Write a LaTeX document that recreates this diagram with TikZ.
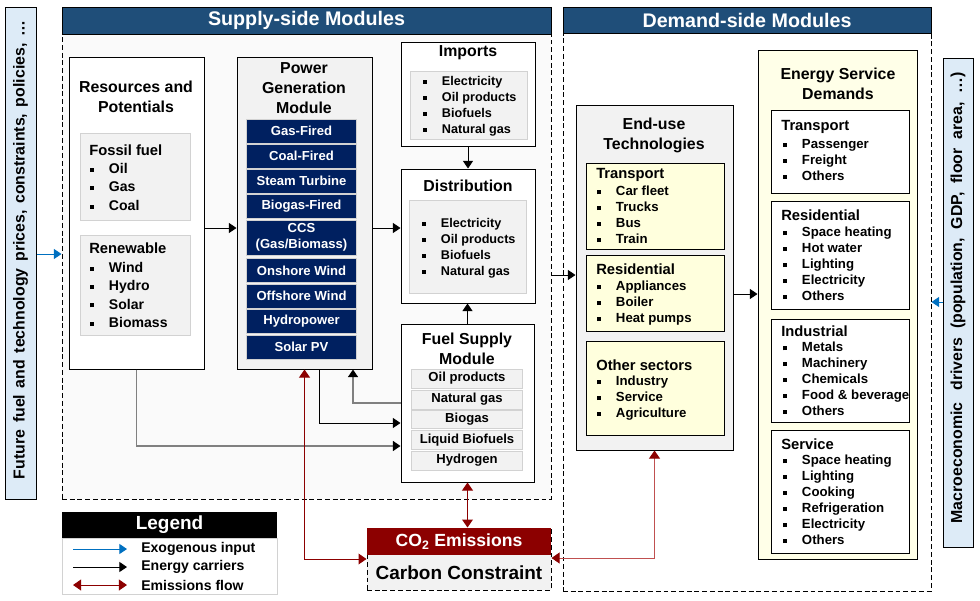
\documentclass[tikz,border=0pt]{standalone}
\usepackage{fontspec}
\setmainfont{Liberation Sans}
\usetikzlibrary{arrows.meta,fit}

\definecolor{headblue}{RGB}{31,78,121}
\definecolor{navyblock}{RGB}{0,32,96}
\definecolor{panelgray}{RGB}{242,242,242}
\definecolor{edgegray}{RGB}{210,210,210}
\definecolor{supplybg}{RGB}{250,250,250}
\definecolor{paleyellow}{RGB}{255,255,221}
\definecolor{lightyellow}{RGB}{255,255,232}
\definecolor{paleblue}{RGB}{221,235,247}
\definecolor{emisred}{RGB}{140,0,0}
\definecolor{emislight}{RGB}{192,80,80}
\definecolor{exoblue}{RGB}{0,112,192}
\definecolor{carriergray}{RGB}{128,128,128}

\newcommand{\bul}{\raisebox{0.12em}{\rule{2.8pt}{2.8pt}}\hspace{10.5pt}}

\tikzset{
  boxframe/.style={draw, line width=0.025cm, inner sep=0pt},
  dashframe/.style={draw, line width=0.025cm, inner sep=0pt, dash pattern=on 3.5pt off 2pt},
  softframe/.style={draw=edgegray, line width=0.025cm, fill=panelgray, inner sep=0pt},
  headtext/.style={font=\fontsize{14}{16}\selectfont\bfseries, text=white, inner sep=0pt},
  titletext/.style={font=\fontsize{11.3}{14.2}\selectfont\bfseries, align=center, inner sep=0pt},
  subhead/.style={font=\fontsize{10.5}{12}\selectfont\bfseries, anchor=west, inner sep=0pt},
  itemlist/.style={font=\fontsize{9.4}{11.35}\selectfont\bfseries, align=left, anchor=north west, inner sep=0pt},
  genblock/.style={draw=edgegray, fill=navyblock, text=white, line width=0.025cm, font=\fontsize{9.3}{11}\selectfont\bfseries, align=center, inner sep=0pt, minimum width=2.725cm, minimum height=0.6cm},
  fuelrow/.style={draw=edgegray, fill=panelgray, line width=0.025cm, font=\fontsize{9.3}{11}\selectfont\bfseries, inner sep=0pt, minimum width=2.75cm, minimum height=0.475cm},
  sidetext/.style={font=\fontsize{11.3}{13}\selectfont\bfseries, rotate=90, inner sep=0pt},
  legendtext/.style={font=\fontsize{10}{12}\selectfont\bfseries, anchor=west, inner sep=0pt},
  exoflow/.style={draw=exoblue, line width=0.025cm, -{Triangle[length=0.19cm,width=0.25cm]}},
  carrierflow/.style={draw=black, line width=0.025cm, -{Triangle[length=0.19cm,width=0.25cm]}},
  greyflow/.style={draw=carriergray, line width=0.035cm, -{Triangle[length=0.19cm,width=0.25cm,color=black]}},
  emisflow/.style={draw=emisred, line width=0.025cm, {Triangle[length=0.2cm,width=0.27cm,color=emisred]}-{Triangle[length=0.2cm,width=0.27cm,color=emisred]}}
}

\begin{document}
\begin{tikzpicture}[x=0.025cm, y=-0.025cm]
\useasboundingbox (0,0) rectangle (980,600);

% Drawing exogenous input box
\node (exo) [boxframe, fill=paleblue, fit={(5,7) (36,499)}] {};
\node (exotext) [sidetext] at (20.5,250) {\spaceskip=0.42em\relax Future fuel and technology prices, constraints, policies, \dots};

% Drawing macroeconomic drivers box
\node (macro) [boxframe, fill=paleblue, fit={(943,58) (973,547)}] {};
\node (macrotext) [sidetext] at (958,298) {\spaceskip=0.55em\relax Macroeconomic\hspace{0.2em} drivers (population, GDP, floor area, \dots)};

% Drawing supply-side frame
\node (supply) [dashframe, fill=supplybg, fit={(62,34) (551,499)}] {};
\node (supplyhead) [boxframe, fill=headblue, fit={(62,7) (551,34)}] {};
\node (supplyheadtext) [headtext] at (supplyhead.center) {Supply-side Modules};

% Drawing demand-side frame
\node (demand) [dashframe, fill=white, fit={(563,33) (931,591)}] {};
\node (demandhead) [boxframe, fill=headblue, fit={(563,7) (931,33)}] {};
\node (demandheadtext) [headtext] at (demandhead.center) {Demand-side Modules};

% Drawing resources and potentials
\node (res) [boxframe, fill=white, fit={(69,57) (204,369)}] {};
\node (restitle) [titletext] at (136,97) {Resources and\\Potentials};
\node (fossil) [softframe, fit={(80,133) (190,220)}] {};
\node (fossilhead) [subhead] at (89,150) {Fossil fuel};
\node (fossillist) [itemlist, font=\fontsize{10}{13.1}\selectfont\bfseries] at (90,163) {\bul Oil\\ \bul Gas\\ \bul Coal};
\node (renew) [softframe, fit={(80,235) (190,335)}] {};
\node (renewhead) [subhead] at (89,248) {Renewable};
\node (renewlist) [itemlist, font=\fontsize{10}{13}\selectfont\bfseries] at (90,262) {\bul Wind\\ \bul Hydro\\ \bul Solar\\ \bul Biomass};

% Drawing power generation module
\node (pgen) [boxframe, fill=panelgray, fit={(237,57) (372,369)}] {};
\node (pgentitle) [titletext] at (304,88.5) {Power\\Generation\\Module};
\node (gasfired) [genblock] at (301.5,131) {Gas-Fired};
\node (coalfired) [genblock] at (301.5,156) {Coal-Fired};
\node (steam) [genblock] at (301.5,181) {Steam Turbine};
\node (biogasfired) [genblock] at (301.5,206.5) {Biogas-Fired};
\node (ccs) [genblock, minimum height=0.875cm] at (301.5,237.5) {CCS\\(Gas/Biomass)};
\node (onshore) [genblock] at (301.5,270.5) {Onshore Wind};
\node (offshore) [genblock] at (301.5,296) {Offshore Wind};
\node (hydropower) [genblock] at (301.5,321) {Hydropower};
\node (solarpv) [genblock] at (301.5,347) {Solar PV};

% Drawing imports
\node (imports) [boxframe, fill=white, fit={(401,42) (535,146)}] {};
\node (importstitle) [titletext] at (468,53) {Imports};
\node (importsinner) [softframe, fit={(410,71) (527,139)}] {};
\node (importslist) [itemlist, font=\fontsize{9}{11.35}\selectfont\bfseries] at (423,76) {\bul Electricity\\ \bul Oil products\\ \bul Biofuels\\ \bul Natural gas};

% Drawing distribution
\node (dist) [boxframe, fill=white, fit={(401,169) (535,303)}] {};
\node (disttitle) [titletext] at (468,186) {Distribution};
\node (distinner) [softframe, fit={(409,200) (526,293)}] {};
\node (distlist) [itemlist, font=\fontsize{9}{11.35}\selectfont\bfseries] at (422,218) {\bul Electricity\\ \bul Oil products\\ \bul Biofuels\\ \bul Natural gas};

% Drawing fuel supply module
\node (fuel) [boxframe, fill=white, fit={(401,324) (534,482)}] {};
\node (fueltitle) [titletext] at (467,349) {Fuel Supply\\Module};
\node (oilrow) [fuelrow] at (467,378.5) {Oil products};
\node (gasrow) [fuelrow] at (467,399.5) {Natural gas};
\node (biogasrow) [fuelrow, minimum height=0.43cm] at (467,419.5) {Biogas};
\node (liquidrow) [fuelrow] at (467,440) {Liquid Biofuels};
\node (hydrogenrow) [fuelrow] at (467,460.5) {Hydrogen};

% Drawing end-use technologies
\node (enduse) [boxframe, fill=panelgray, fit={(576,105) (733,450)}] {};
\node (endusetitle) [titletext] at (654,135.5) {End-use\\Technologies};
\node (usetrans) [boxframe, fill=paleyellow, fit={(586,163) (724,249)}] {};
\node (usetranshead) [subhead] at (596,175) {Transport};
\node (usetranslist) [itemlist] at (597,186) {\bul Car fleet\\ \bul Trucks\\ \bul Bus\\ \bul Train};
\node (useres) [boxframe, fill=paleyellow, fit={(586,255) (724,331)}] {};
\node (usereshead) [subhead] at (596,269) {Residential};
\node (usereslist) [itemlist] at (597,281) {\bul Appliances\\ \bul Boiler\\ \bul Heat pumps};
\node (useother) [boxframe, fill=paleyellow, fit={(586,341) (724,435)}] {};
\node (useotherhead) [subhead] at (596,365) {Other sectors};
\node (useotherlist) [itemlist] at (597,376) {\bul Industry\\ \bul Service\\ \bul Agriculture};

% Drawing energy service demands
\node (esd) [boxframe, fill=lightyellow, fit={(758,50) (917,559)}] {};
\node (esdtitle) [titletext] at (838,84) {Energy Service\\Demands};
\node (esdtrans) [boxframe, fill=white, fit={(771,110) (909,193)}] {};
\node (esdtranshead) [subhead] at (781,127) {Transport};
\node (esdtranslist) [itemlist] at (783,139) {\bul Passenger\\ \bul Freight\\ \bul Others};
\node (esdres) [boxframe, fill=white, fit={(771,201) (909,309)}] {};
\node (esdreshead) [subhead] at (781,215) {Residential};
\node (esdreslist) [itemlist] at (783,227) {\bul Space heating\\ \bul Hot water\\ \bul Lighting\\ \bul Electricity\\ \bul Others};
\node (esdind) [boxframe, fill=white, fit={(771,319) (909,422)}] {};
\node (esdindhead) [subhead] at (781,331) {Industrial};
\node (esdindlist) [itemlist] at (783,342) {\bul Metals\\ \bul Machinery\\ \bul Chemicals\\ \bul Food \& beverage\\ \bul Others};
\node (esdser) [boxframe, fill=white, fit={(771,430) (909,553)}] {};
\node (esdserhead) [subhead] at (781,444) {Service};
\node (esdserlist) [itemlist] at (783,455) {\bul Space heating\\ \bul Lighting\\ \bul Cooking\\ \bul Refrigeration\\ \bul Electricity\\ \bul Others};

% Drawing CO2 emissions and carbon constraint
\node (co2) [dashframe, fill=panelgray, fit={(367,528) (551,590)}] {};
\node (co2head) [fill=emisred, inner sep=0pt, fit={(367,528) (551,555)}] {};
\node (co2headtext) [text=white, font=\fontsize{12.5}{14}\selectfont\bfseries, inner sep=0pt] at (co2head.center) {CO\textsubscript{2} Emissions};
\node (co2text) [font=\fontsize{13.5}{15}\selectfont\bfseries, inner sep=0pt] at (459,573) {Carbon Constraint};

% Drawing legend
\node (legendbody) [draw=edgegray, fill=white, line width=0.025cm, inner sep=0pt, fit={(62,538) (277,594)}] {};
\node (legendhead) [fill=black, inner sep=0pt, fit={(62,512) (277,538)}] {};
\node (legendheadtext) [text=white, font=\fontsize{13.5}{15}\selectfont\bfseries, inner sep=0pt] at (legendhead.center) {Legend};
\coordinate (lgexoA) at (73,549);
\coordinate (lgexoB) at (127,549);
\coordinate (lgcarA) at (73,567);
\coordinate (lgcarB) at (127,567);
\coordinate (lgemiA) at (73,585);
\coordinate (lgemiB) at (127,585);
\draw [exoflow] (lgexoA) -- (lgexoB);
\draw [carrierflow] (lgcarA) -- (lgcarB);
\draw [emisflow] (lgemiA) -- (lgemiB);
\node (lgexotext) [legendtext] at (141,549) {Exogenous input};
\node (lgcartext) [legendtext] at (141,567) {Energy carriers};
\node (lgemitext) [legendtext] at (141,585) {Emissions flow};

% Drawing exogenous inputs
\draw [exoflow] (exo.east |- 0,254) -- (supply.west |- 0,254);
\draw [exoflow] (macro.west |- 0,302) -- (demand.east |- 0,302);

% Drawing energy carriers
\draw [carrierflow] (res.east |- 0,228) -- (pgen.west |- 0,228);
\draw [carrierflow] (pgen.east |- 0,228) -- (dist.west |- 0,228);
\draw [carrierflow] (imports.south) -- (dist.north -| imports.south);
\draw [carrierflow] (fuel.north) -- (dist.south -| fuel.north);
\draw [greyflow] (fuel.west |- 0,403) -| (pgen.south -| 353,0);
\draw [carrierflow] (pgen.south -| 319,0) |- (fuel.west |- 0,423);
\draw [greyflow] (res.south) |- (fuel.west |- 0,446);
\draw [carrierflow] (supply.east |- 0,275) -- (enduse.west |- 0,275);
\draw [carrierflow] (enduse.east |- 0,294) -- (esd.west |- 0,294);

% Drawing emissions flows
\draw [emisflow] (pgen.south) |- (co2.west |- 0,559);
\draw [emisflow] (fuel.south) -- (co2.north -| fuel.south);
\draw [emisflow, draw=emislight] (enduse.south) |- (co2.east |- 0,558);
\end{tikzpicture}
\end{document}
